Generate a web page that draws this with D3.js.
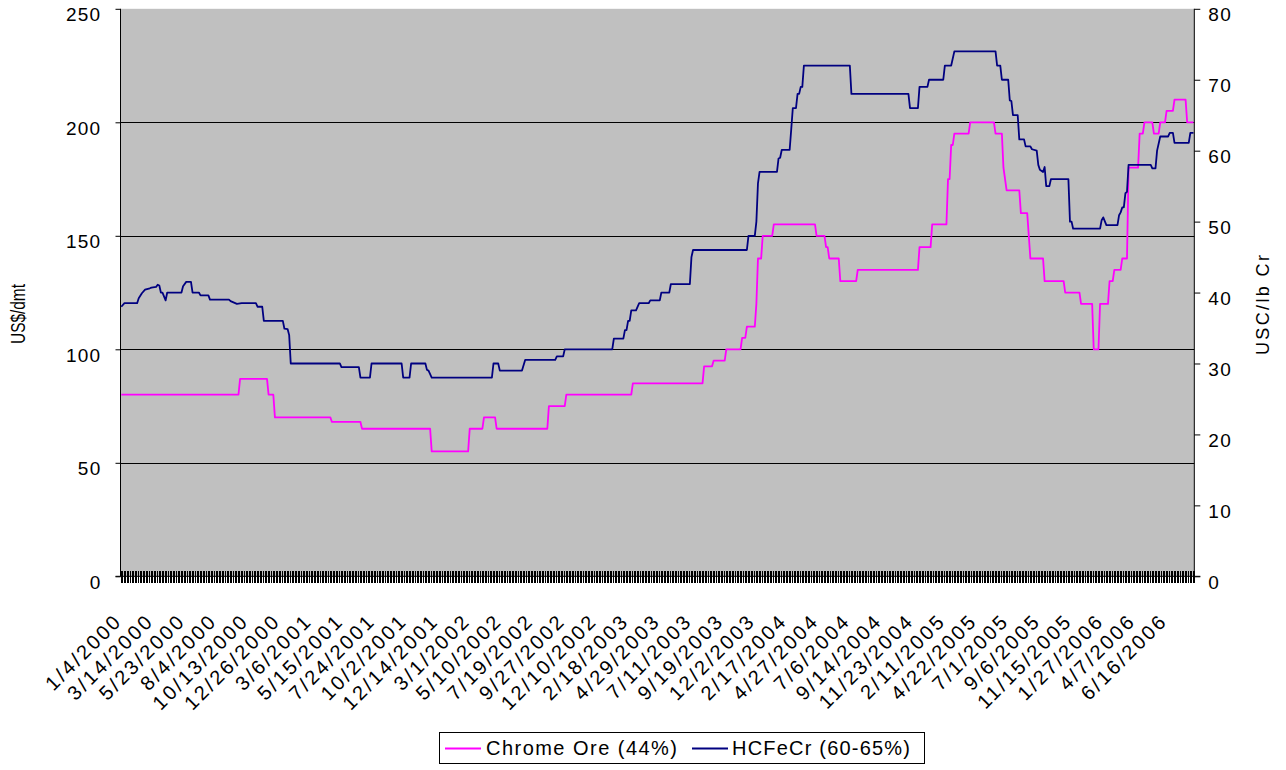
<!DOCTYPE html>
<html>
<head>
<meta charset="utf-8">
<script src="https://cdnjs.cloudflare.com/ajax/libs/d3/7.8.5/d3.min.js"></script>
<style>
  body { margin: 0; background: #fff; }
  svg { display: block; font-family: "Liberation Sans", Arial, sans-serif; }
</style>
</head>
<body>
<script>
// category slots on the x axis, a date label every 20 slots
const nCats = 678;
const labelEvery = 20;
const dateLabels = ["1/4/2000","3/14/2000","5/23/2000","8/4/2000","10/13/2000","12/26/2000",
  "3/6/2001","5/15/2001","7/24/2001","10/2/2001","12/14/2001","3/1/2002","5/10/2002",
  "7/19/2002","9/27/2002","12/10/2002","2/18/2003","4/29/2003","7/11/2003","9/19/2003",
  "12/2/2003","2/17/2004","4/27/2004","7/6/2004","9/14/2004","11/23/2004","2/11/2005",
  "4/22/2005","7/1/2005","9/6/2005","11/15/2005","1/27/2006","4/7/2006","6/16/2006"];

const leftTicks = [0, 50, 100, 150, 200, 250];
const rightTicks = [0, 10, 20, 30, 40, 50, 60, 70, 80];
const gridTicks = [50, 100, 150, 200];

// [slot, value] vertices, Chrome Ore in US$/dmt (left axis)
const chromeOre = [[0,80],[74,80],[75,87],[92,87],[93,80],[96,80],[97,70],[132,70],[133,68],
  [151,68],[152,65],[195,65],[196,55],[219,55],[220,65],[228,65],[229,70],[236,70],[237,65],
  [269,65],[270,75],[280,75],[281,80],[322,80],[323,85],[367,85],[368,92.5],[373,92.5],[374,95],
  [381,95],[382,100],[391,100],[392,105],[394,105],[395,110],[400,110],[401,120],[402,140],
  [404,140],[405,150],[411,150],[412,155],[438,155],[439,150],[444,150],[445,145],[446,145],
  [447,140],[453,140],[454,130],[464,130],[465,135],[503,135],[504,145],[511,145],[512,155],
  [521,155],[522,175],[523,175],[524,190],[525,190],[526,195],[535,195],[536,200],[551,200],
  [552,195],[556,195],[557,180],[559,170],[567,170],[568,160],[572,160],[573,150],[574,140],
  [582,140],[583,130],[595,130],[596,125],[605,125],[606,120],[613,120],[614,100],[617,100],
  [618,120],[623,120],[624,130],[626,130],[627,135],[631,135],[632,140],[635,140],[636,180],
  [642,180],[643,195],[645,195],[646,200],[651,200],[652,195],[655,195],[656,200],[659,200],
  [660,205],[664,205],[665,210],[672,210],[673,200],[677,200]];

// [slot, value] vertices, HCFeCr in USC/lb Cr (right axis)
const hcfecr = [[0,38.0],[2,38.5],[10,38.5],[11,39.2],[13,39.9],[15,40.4],[18,40.6],[19,40.7],
  [22,40.8],[23,41.1],[24,41.0],[25,40.0],[26,40.0],[28,38.9],[29,40.0],[38,40.0],[39,40.9],
  [41,41.5],[44,41.5],[45,40.0],[49,40.0],[50,39.6],[55,39.6],[56,39.0],[68,39.0],[69,38.8],
  [73,38.4],[76,38.5],[85,38.5],[86,38.0],[89,38.0],[90,36.0],[102,36.0],[103,34.9],[105,34.85],
  [106,34.0],[107,30.0],[138,30.0],[139,29.5],[150,29.5],[151,28.0],[157,28.0],[158,30.0],
  [177,30.0],[178,28.0],[182,28.0],[183,30.0],[192,30.0],[193,29.1],[194,29.0],[196,28.0],
  [234,28.0],[235,30.0],[238,30.0],[239,29.0],[253,29.0],[255,30.5],[274,30.5],[275,31.0],
  [279,31.0],[280,32.0],[310,32.0],[311,33.5],[317,33.5],[318,34.7],[319,34.7],[320,36.0],
  [321,36.0],[322,37.5],[325,37.5],[327,38.5],[333,38.5],[334,38.9],[340,38.9],[341,40.0],
  [346,40.0],[347,41.2],[359,41.2],[360,45.0],[361,46.0],[395,46.0],[396,48.0],[400,48.0],
  [401,50.0],[402,55.4],[403,57.0],[414,57.0],[415,58.9],[416,59.0],[417,60.1],[422,60.1],
  [423,63.0],[424,66.0],[426,66.0],[427,68.0],[428,68.0],[429,69.0],[430,69.0],[431,72.0],
  [460,72.0],[461,68.0],[497,68.0],[498,66.0],[503,66.0],[504,69.0],[509,69.0],[510,70.0],
  [519,70.0],[520,72.0],[524,72.0],[526,74.0],[552,74.0],[553,72.0],[555,72.0],[556,70.0],
  [560,70.0],[561,67.1],[562,67.0],[563,65.0],[566,65.0],[567,61.6],[570,61.6],[571,60.6],
  [574,60.6],[575,60.2],[578,60.0],[579,58.0],[580,57.3],[582,57.0],[583,57.7],[584,55.0],
  [586,55.0],[587,56.0],[598,56.0],[599,50.0],[600,50.0],[601,49.0],[618,49.0],[619,50.2],
  [620,50.6],[622,49.5],[629,49.5],[630,50.9],[631,51.3],[632,52.0],[633,52.0],[634,54.0],
  [635,54.2],[636,58.0],[650,58.0],[651,57.5],[653,57.5],[654,60.0],[656,62.0],[661,62.0],
  [662,62.5],[664,62.5],[665,61.1],[674,61.1],[675,62.5],[677,62.5]];

const W = 1286, H = 770;
const plot = {left: 120.5, right: 1194.3, top: 8.8, bottom: 576.3};

const x = d3.scaleLinear().domain([0, nCats]).range([plot.left, plot.right]);
const yL = d3.scaleLinear().domain([0, 250]).range([plot.bottom, plot.top]);
const yR = d3.scaleLinear().domain([0, 80]).range([plot.bottom, plot.top]);

const svg = d3.select("body").append("svg").attr("width", W).attr("height", H);

// plot area
svg.append("rect")
  .attr("x", plot.left).attr("y", plot.top)
  .attr("width", plot.right - plot.left).attr("height", plot.bottom - plot.top)
  .attr("fill", "#c0c0c0");

// gridlines
svg.append("g").selectAll("line").data(gridTicks).enter().append("line")
  .attr("x1", plot.left).attr("x2", plot.right)
  .attr("y1", d => Math.round(yL(d)) + 0.5).attr("y2", d => Math.round(yL(d)) + 0.5)
  .attr("stroke", "#000").attr("stroke-width", 1);

// category axis with crossing tick marks
const xAxis = svg.append("g").attr("transform", "translate(0," + plot.bottom + ")")
  .call(d3.axisBottom(x).tickValues(d3.range(nCats + 1)).tickFormat(""));
xAxis.select(".domain").remove();
xAxis.selectAll(".tick line").attr("y1", -5).attr("y2", 7)
  .attr("stroke", "#000").attr("shape-rendering", "crispEdges");
svg.append("line").attr("x1", plot.left - 5).attr("x2", plot.right + 6)
  .attr("y1", plot.bottom).attr("y2", plot.bottom).attr("stroke", "#000");

// date labels
svg.append("g").selectAll("text").data(dateLabels).enter().append("text")
  .attr("transform", (d, i) => "translate(" + (x(i * labelEvery + 0.5) + 2) + ",622) rotate(-45)")
  .attr("text-anchor", "end")
  .attr("font-size", 20)
  .style("letter-spacing", "2.6px")
  .text(d => d);

// left axis
const axL = svg.append("g").attr("transform", "translate(" + plot.left + ",0)")
  .call(d3.axisLeft(yL).tickValues(leftTicks).tickSize(5).tickPadding(14));
axL.select(".domain").attr("stroke", "#000").attr("d", "M0," + plot.top + "V" + plot.bottom);
axL.selectAll(".tick line").attr("stroke", "#000");
axL.selectAll(".tick text").attr("font-size", 19).style("letter-spacing", "1.3px")
  .attr("font-family", "Liberation Sans, Arial, sans-serif").attr("fill", "#000").attr("dy", "0.62em");

// right axis
const axR = svg.append("g").attr("transform", "translate(" + plot.right + ",0)")
  .call(d3.axisRight(yR).tickValues(rightTicks).tickSize(6).tickPadding(8));
axR.select(".domain").attr("stroke", "#000").attr("d", "M0," + plot.top + "V" + plot.bottom);
axR.selectAll(".tick line").attr("stroke", "#000");
axR.selectAll(".tick text").attr("font-size", 19).style("letter-spacing", "1.3px")
  .attr("font-family", "Liberation Sans, Arial, sans-serif").attr("fill", "#000").attr("dy", "0.62em");

// series lines
const line = (yScale) => d3.line().x(d => x(d[0] + 0.5)).y(d => yScale(d[1]));
svg.append("path").datum(chromeOre).attr("d", line(yL))
  .attr("fill", "none").attr("stroke", "#ff00ff").attr("stroke-width", 1.8).attr("stroke-linejoin", "round");
svg.append("path").datum(hcfecr).attr("d", line(yR))
  .attr("fill", "none").attr("stroke", "#000080").attr("stroke-width", 1.8).attr("stroke-linejoin", "round");

// axis titles
svg.append("text").attr("transform", "translate(25,314) rotate(-90)")
  .attr("text-anchor", "middle").attr("font-size", 20)
  .attr("textLength", 60).attr("lengthAdjust", "spacingAndGlyphs").text("US$/dmt");
svg.append("text").attr("transform", "translate(1269,305) rotate(-90)")
  .attr("text-anchor", "middle").attr("font-size", 18)
  .attr("textLength", 100).attr("lengthAdjust", "spacing").text("USC/lb Cr");

// legend
const legend = svg.append("g");
legend.append("rect").attr("x", 439.5).attr("y", 732.5).attr("width", 485).attr("height", 31)
  .attr("fill", "#fff").attr("stroke", "#000");
const legendItems = [
  {name: "Chrome Ore (44%)", color: "#ff00ff", x0: 445, tx: 486, len: 191},
  {name: "HCFeCr (60-65%)", color: "#000080", x0: 692, tx: 732, len: 178}
];
legendItems.forEach(d => {
  legend.append("line").attr("x1", d.x0).attr("x2", d.x0 + 36).attr("y1", 748.5).attr("y2", 748.5)
    .attr("stroke", d.color).attr("stroke-width", 1.8);
  legend.append("text").attr("x", d.tx).attr("y", 755).attr("font-size", 20)
    .attr("textLength", d.len).attr("lengthAdjust", "spacing").text(d.name);
});
</script>
</body>
</html>
